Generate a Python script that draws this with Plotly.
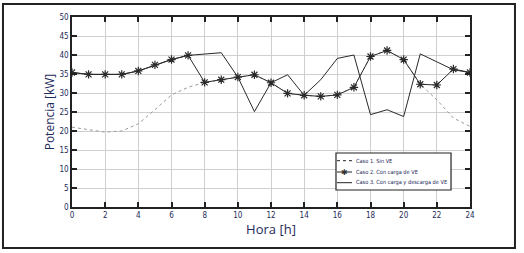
import plotly.graph_objects as go

hours = list(range(25))
caso1 = [21.0, 20.4, 19.7, 20.0, 21.9, 25.6, 29.5, 31.5, 32.8, 33.5, 34.2, 34.8, 32.7,
         29.9, 29.4, 29.1, 29.5, 31.5, 39.6, 41.2, 38.8, 32.3, 28.2, 23.4, 21.2]
caso2 = [35.4, 34.9, 34.9, 34.9, 35.8, 37.4, 38.8, 39.9, 32.8, 33.5, 34.2, 34.8, 32.7,
         29.9, 29.4, 29.1, 29.5, 31.5, 39.6, 41.2, 38.8, 32.3, 32.1, 36.3, 35.4]
caso3 = [35.4, 34.9, 34.9, 34.9, 35.8, 37.4, 38.8, 39.9, 40.3, 40.6, 34.2, 25.1, 32.7,
         34.8, 29.4, 33.5, 39.1, 40.0, 24.3, 25.6, 23.8, 40.3, 38.2, 36.1, 35.4]

names = ["Caso 1. Sin VE", "Caso 2. Con carga de VE", "Caso 3. Con carga y descarga de VE"]
xticks = list(range(0, 25, 2))
yticks = list(range(0, 51, 5))

font_fam = "Liberation Sans Narrow, DejaVu Sans Condensed, Liberation Sans, sans-serif"
txt_col = "#1e2a5a"

fig = go.Figure()
fig.add_trace(go.Scatter(x=hours, y=caso1, name=names[0], mode="lines",
                         line=dict(color="#9a9a9a", width=1, dash="dot")))
fig.add_trace(go.Scatter(x=hours, y=caso3, name=names[2], mode="lines",
                         line=dict(color="#2a2a2a", width=1)))
fig.add_trace(go.Scatter(x=hours, y=caso2, name=names[1], mode="lines+markers",
                         line=dict(color="#2a2a2a", width=1),
                         marker=dict(symbol="asterisk-open", size=7,
                                     line=dict(color="#333333", width=1.2))))

axis_common = dict(showgrid=True, gridcolor="#cfcfcf", gridwidth=1,
                   showline=True, linecolor="#222222", linewidth=1.5, mirror="ticks",
                   ticks="inside", ticklen=5, tickcolor="#222222", tickwidth=1.5,
                   zeroline=False,
                   tickfont=dict(family=font_fam, size=8, color=txt_col))

fig.update_xaxes(range=[0, 24], tickvals=xticks, ticktext=[str(v) for v in xticks],
                 title=dict(text="Hora [h]", font=dict(family="Open Sans, sans-serif", size=13, color=txt_col),
                            standoff=6),
                 **axis_common)
fig.update_yaxes(range=[0, 50], tickvals=yticks, ticktext=[str(v) for v in yticks],
                 title=dict(text="Potencia [kW]", font=dict(family="Open Sans, sans-serif", size=12, color=txt_col),
                            standoff=2),
                 **axis_common)

# manual legend (compact, like the reference)
leg_x0, leg_x1, leg_y0, leg_y1 = 0.6633, 0.9523, 0.0895, 0.2842
row_y = [0.2437, 0.1842, 0.1279]
samp_x0, samp_x1, star_x, text_x = 0.6658, 0.7035, 0.6859, 0.7073
shapes = [
    dict(type="rect", xref="paper", yref="paper", x0=-0.1734, x1=1.113, y0=-0.216, y1=1.068,
         line=dict(color="#222222", width=2), layer="below"),
    dict(type="rect", xref="paper", yref="paper", x0=leg_x0, x1=leg_x1, y0=leg_y0, y1=leg_y1,
         line=dict(color="#222222", width=1.2), fillcolor="white", layer="above"),
    dict(type="line", xref="paper", yref="paper", x0=samp_x0, x1=samp_x1, y0=row_y[0], y1=row_y[0],
         line=dict(color="#222222", width=1, dash="dot"), layer="above"),
    dict(type="line", xref="paper", yref="paper", x0=samp_x0, x1=samp_x1, y0=row_y[1], y1=row_y[1],
         line=dict(color="#222222", width=1), layer="above"),
    dict(type="line", xref="paper", yref="paper", x0=samp_x0, x1=samp_x1, y0=row_y[2], y1=row_y[2],
         line=dict(color="#222222", width=1), layer="above"),
]
annotations = [
    dict(xref="paper", yref="paper", x=text_x, y=ry, text=nm, showarrow=False,
         xanchor="left", yanchor="middle",
         font=dict(family=font_fam, size=5.6, color=txt_col))
    for nm, ry in zip(names, row_y)
]
annotations.append(dict(xref="paper", yref="paper", x=star_x, y=row_y[1], text="✱", showarrow=False,
                        xanchor="center", yanchor="middle",
                        font=dict(family="DejaVu Sans", size=8, color="#333333")))

fig.update_layout(
    width=524, height=253,
    margin=dict(l=72, r=54, t=17, b=46),
    paper_bgcolor="white", plot_bgcolor="white",
    showlegend=False,
    shapes=shapes,
    annotations=annotations,
)

fig.write_html("out.html", config={"displayModeBar": False},
               post_script="document.body.style.margin='0';document.body.style.padding='0';")
